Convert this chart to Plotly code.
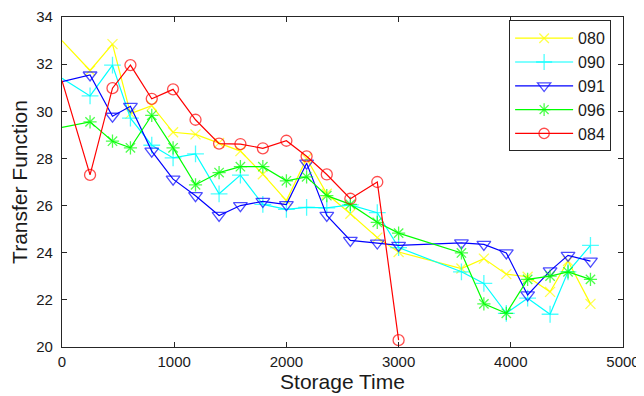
import plotly.graph_objects as go

storage_time = [0, 250, 450, 610, 800, 990, 1190, 1400, 1590, 1790, 2000, 2180,
                2360, 2570, 2810, 3000, 3560, 3760, 3960, 4150, 4350, 4510, 4710]

s080 = [33.0, 31.73, 32.85, 29.9, 30.24, 29.11, 29.02, 28.66, 28.31, 27.33, 26.21, 28.0,
        26.5, 25.65, 24.64, 24.03, 23.33, 23.75, 23.09, 22.98, 22.34, 23.65, 21.83]
s090 = [31.4, 30.65, 31.96, 29.71, 28.56, 28.02, 28.19, 26.5, 27.29, 26.05, 25.84, 25.92,
        25.9, 26.03, 25.7, 24.22, 23.19, 22.7, 21.43, 22.07, 21.39, 23.19, 24.31]
s091 = [31.26, 31.54, 29.79, 30.21, 28.31, 27.12, 26.42, 25.58, 26.0, 26.18, 26.04, 27.8,
        25.58, 24.52, 24.41, 24.31, 24.42, 24.35, 23.99, 22.21, 23.23, 23.89, 23.64]
s096 = [29.32, 29.55, 28.73, 28.45, 29.83, 28.45, 26.88, 27.4, 27.65, 27.65, 27.05, 27.22,
        26.42, 26.05, 25.29, 24.83, 23.99, 21.83, 21.43, 22.87, 23.01, 23.19, 22.87]
s084 = [31.3, 27.3, 30.98, 31.96, 30.53, 30.93, 29.64, 28.63, 28.61, 28.43, 28.75, 28.09,
        27.32, 26.29, 27.0, 20.29]

series = [
    ("080", s080, "#FFFF00", "x-thin-open", 10),
    ("090", s090, "#00FFFF", "cross-thin-open", 12),
    ("091", s091, "#0000FF", "triangle-down-open", 12),
    ("096", s096, "#00FF00", "asterisk-open", 11),
    ("084", s084, "#FF0000", "circle-open", 11),
]

fig = go.Figure()
for name, vals, color, sym, sz in series:
    n = len(vals)
    sizes = [0] + [sz] * (n - 1)
    fig.add_trace(go.Scatter(
        x=storage_time[:n], y=vals, name=name, mode="lines+markers",
        line=dict(color=color, width=1.2),
        marker=dict(symbol=sym, size=sizes, color=color, line=dict(color=color, width=1.3)),
    ))

FONT = "Liberation Sans, Arial"
axis_common = dict(
    showline=True, mirror="ticks", linecolor="#262626", linewidth=1.3,
    ticks="inside", ticklen=5, tickcolor="#262626", showgrid=False, zeroline=False,
    automargin=False,
    tickfont=dict(family=FONT, size=15, color="#1a1a1a"),
)

# page body has an 8px margin, so the figure is sized to fit the 644x396 window
fig.update_layout(
    width=636, height=388,
    margin=dict(l=54, r=21, t=9, b=49),
    paper_bgcolor="white", plot_bgcolor="white",
    xaxis=dict(range=[0, 5000], tickvals=[0, 1000, 2000, 3000, 4000, 5000],
               ticklabelstandoff=1,
               title=dict(text="Storage Time", standoff=2,
                          font=dict(family=FONT, size=21, color="#1a1a1a")),
               **axis_common),
    yaxis=dict(range=[20, 34], tickvals=[20, 22, 24, 26, 28, 30, 32, 34],
               ticklabelstandoff=5,
               title=dict(text="Transfer Function", standoff=12,
                          font=dict(family=FONT, size=21, color="#1a1a1a")),
               **axis_common),
    legend=dict(x=0.797, y=0.99, xanchor="left", yanchor="top",
                bordercolor="#262626", borderwidth=1, bgcolor="white",
                font=dict(family=FONT, size=16, color="#1a1a1a"),
                itemwidth=58, tracegroupgap=0),
    showlegend=True,
)

fig.write_html("out.html")
